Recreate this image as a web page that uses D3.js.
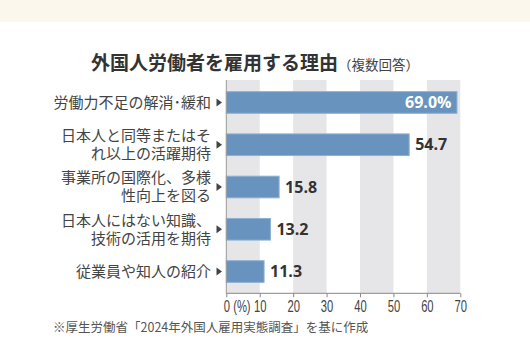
<!DOCTYPE html>
<html><head><meta charset="utf-8">
<script src="https://cdn.jsdelivr.net/npm/d3@7"></script>
<style>
html,body{margin:0;padding:0;background:#fff;}
svg{display:block;}
</style>
</head><body>
<script>
const categories = [
  ["労働力不足の解消･緩和"],
  ["日本人と同等またはそ","れ以上の活躍期待"],
  ["事業所の国際化、多様","性向上を図る"],
  ["日本人にはない知識、","技術の活用を期待"],
  ["従業員や知人の紹介"]
];
const values = [69.0, 54.7, 15.8, 13.2, 11.3];
const valueLabels = ["69.0%", "54.7", "15.8", "13.2", "11.3"];
const tickValues = [0,10,20,30,40,50,60,70];
const title = "外国人労働者を雇用する理由";
const subtitle = "（複数回答）";
const note = "※厚生労働省「2024年外国人雇用実態調査」を基に作成";

const W = 530, H = 364;
const svg = d3.select("body").append("svg").attr("width", W).attr("height", H);
const JP = "'Noto Sans CJK JP', 'Noto Sans', sans-serif";

svg.append("rect").attr("x",0).attr("y",0).attr("width",W).attr("height",22).attr("fill","#fbf7ec");

const x = d3.scaleLinear().domain([0,70]).range([226.3,460.3]);
const y = d3.scaleBand().domain(d3.range(values.length)).range([81,293]).paddingInner(0.488).paddingOuter(0.252);
const plotTop = 80, plotBottom = 293.3;

// stripes
const stripes = d3.range(0,70,20);
svg.selectAll("rect.stripe").data(stripes).enter().append("rect")
  .attr("class","stripe")
  .attr("x", d => x(d)).attr("width", d => x(d+10)-x(d))
  .attr("y", plotTop).attr("height", plotBottom-plotTop)
  .attr("fill","#e6e6e8");

// title
const t = svg.append("text").attr("x", 255).attr("y", 70).attr("text-anchor","middle")
  .attr("font-family", JP).attr("fill","#333");
t.append("tspan").attr("font-size",19).attr("font-weight",700).text(title);
t.append("tspan").attr("font-size",13.5).attr("font-weight",400).attr("fill","#444").text(subtitle);

// bars
svg.selectAll("rect.bar").data(values).enter().append("rect")
  .attr("class","bar")
  .attr("x", x(0)).attr("y",(d,i)=>y(i))
  .attr("width", d => x(d)-x(0)).attr("height", y.bandwidth())
  .attr("fill","#6893be").attr("stroke","#8db0d2").attr("stroke-width",1);

// value labels
svg.selectAll("text.val").data(values).enter().append("text")
  .attr("class","val")
  .attr("x",(d,i)=> i===0 ? x(d)-5.5 : x(d)+6)
  .attr("y",(d,i)=>y(i)+y.bandwidth()/2)
  .attr("dy","0.36em")
  .attr("text-anchor",(d,i)=> i===0 ? "end" : "start")
  .attr("font-family","'Open Sans', sans-serif").attr("font-weight",700).attr("font-size",16)
  .attr("fill",(d,i)=> i===0 ? "#fff" : "#333")
  .text((d,i)=>valueLabels[i]);

// left axis line
svg.append("line").attr("x1",x(0)).attr("x2",x(0)).attr("y1",plotTop).attr("y2",plotBottom)
  .attr("stroke","#999").attr("stroke-width",1);

// bottom axis
const sx = 0.66;
const axis = d3.axisBottom(x).tickValues(tickValues).tickSize(4).tickFormat(d => d===0 ? "0 (%)" : d);
const ga = svg.append("g").attr("transform",`translate(0,${plotBottom})`).call(axis);
ga.select(".domain").attr("stroke","#888").attr("d", `M${x(0)},0H${x(70)}`);
ga.selectAll(".tick line").attr("stroke","#888");
ga.selectAll(".tick text")
  .attr("font-family","'Liberation Sans', sans-serif")
  .attr("font-size",17)
  .attr("fill","#444").attr("y",7).attr("dy","0.71em")
  .attr("text-anchor", d => d===0 ? "start" : "middle")
  .attr("x", d => (d===0 ? -3 : 0)/sx)
  .attr("transform", `scale(${sx},1)`);

// arrows
svg.selectAll("path.arrow").data(values).enter().append("path")
  .attr("class","arrow")
  .attr("d",(d,i)=>{const cy=y(i)+y.bandwidth()/2; return `M216.5,${cy-4}L222,${cy}L216.5,${cy+4}Z`;})
  .attr("fill","#444");

// category labels
const lab = svg.selectAll("text.cat").data(categories).enter().append("text")
  .attr("class","cat")
  .attr("x",211).attr("text-anchor","end")
  .attr("font-family",JP).attr("font-size",15).attr("fill","#444")
  .attr("y",(d,i)=>y(i)+y.bandwidth()/2 - (d.length-1)*9);
lab.selectAll("tspan").data(d=>d).enter().append("tspan")
  .attr("x",211).attr("dy",(d,j)=> j===0 ? "0.36em" : 18).text(d=>d);

// note
svg.append("text").attr("x",53).attr("y",332).attr("font-family",JP).attr("font-size",12.5)
  .attr("fill","#555").text(note);
</script>
</body></html>
